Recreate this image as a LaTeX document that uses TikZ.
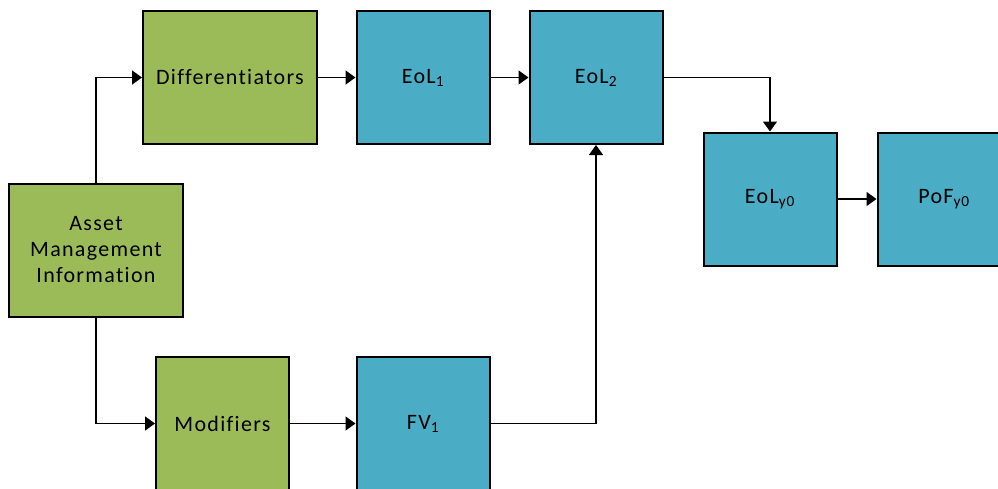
\documentclass[tikz,border=0pt]{standalone}
\usepackage{fontspec}
\setmainfont{Carlito}[LetterSpace=6,Ligatures=NoCommon]
\usetikzlibrary{arrows.meta}
\definecolor{boxgreen}{HTML}{9BBB59}
\definecolor{boxblue}{HTML}{4BACC6}
\begin{document}
\begin{tikzpicture}[x=1pt,y=-1pt,
  blk/.style={draw=black,line width=2pt,minimum width=133pt,minimum height=133pt,inner sep=0pt,font=\fontsize{22}{26}\selectfont,align=center,text=black},
  gbox/.style={blk,fill=boxgreen},
  bbox/.style={blk,fill=boxblue},
  conn/.style={line width=1.5pt,-{Triangle[length=10pt,width=14pt]}}]
\useasboundingbox (0,0) rectangle (998,488);
\clip (0,0) rectangle (998,488);
\node[gbox,minimum width=174pt] (ami) at (96,250) {Asset\\Management\\Information};
\node[gbox,minimum width=174pt] (dif) at (230,77.5) {Differentiators};
\node[bbox] (eol1) at (423,77.5) {EoL\textsubscript{1}};
\node[bbox] (eol2) at (596,77.5) {EoL\textsubscript{2}};
\node[bbox] (eoly) at (770,199) {EoL\textsubscript{y0}};
\node[bbox] (pofy) at (944,199) {PoF\textsubscript{y0}};
\node[gbox] (mod) at (222.5,423.5) {Modifiers};
\node[bbox] (fv1) at (423,423.5) {FV\textsubscript{1}};
\draw[conn] (ami.north) |- (dif.west);
\draw[conn] (ami.south) |- (mod.west);
\draw[conn] (dif.east) -- (eol1.west);
\draw[conn] (eol1.east) -- (eol2.west);
\draw[conn] (mod.east) -- (fv1.west);
\draw[conn] (fv1.east) -| (eol2.south);
\draw[conn] (eol2.east) -| (eoly.north);
\draw[conn] (eoly.east) -- (pofy.west);
\end{tikzpicture}
\end{document}
